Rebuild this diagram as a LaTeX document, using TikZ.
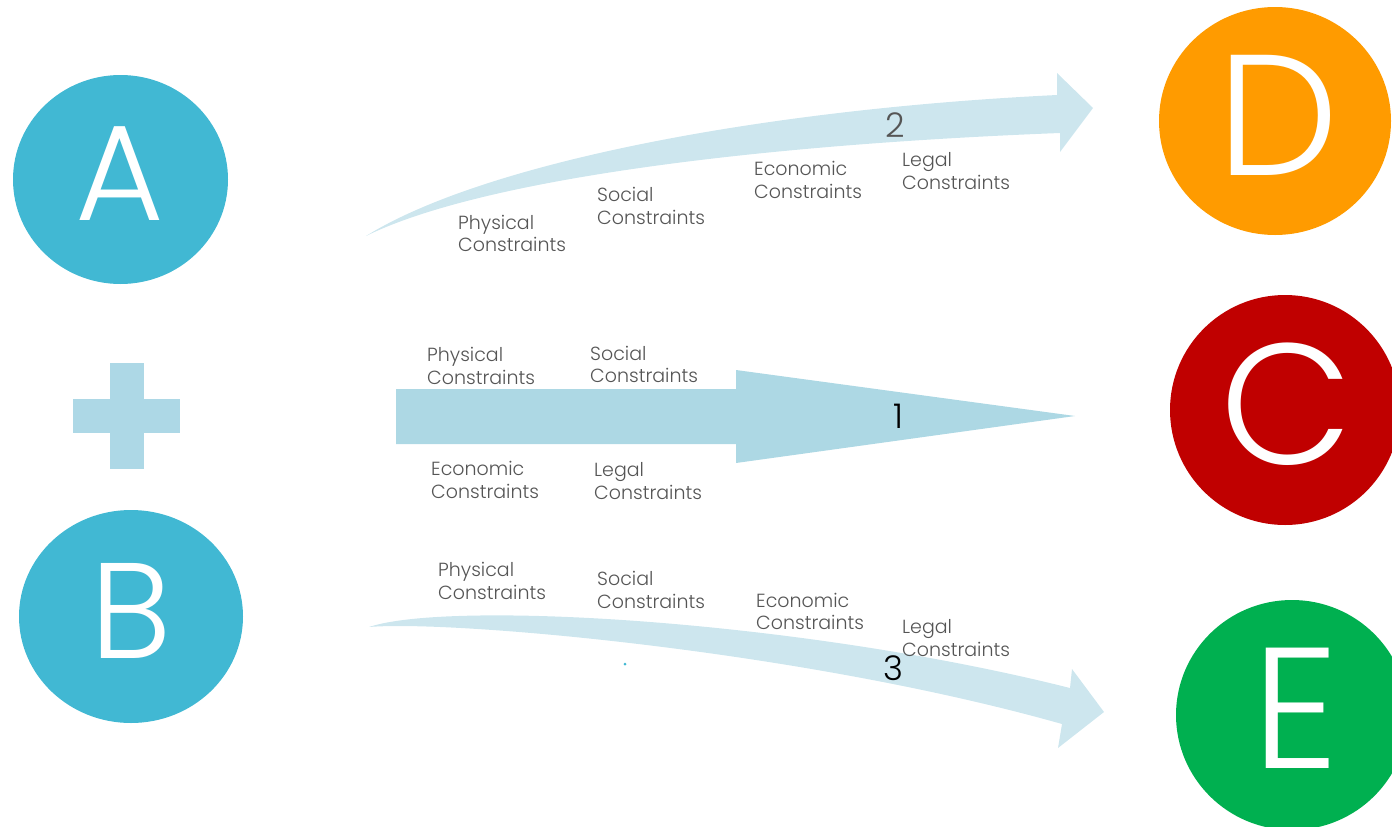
\documentclass[tikz,border=0pt]{standalone}
\usepackage{fontspec}
\setmainfont{Poppins}[UprightFont=* Light]
\usetikzlibrary{shapes.geometric}
\definecolor{ballblue}{HTML}{41B8D3}
\definecolor{plusblue}{HTML}{ADD8E6}
\definecolor{arrowmain}{HTML}{ADD8E4}
\definecolor{arrowlight}{HTML}{CDE6EE}
\definecolor{dorange}{HTML}{FF9B00}
\definecolor{cred}{HTML}{C00000}
\definecolor{egreen}{HTML}{00B050}
\definecolor{labelgray}{HTML}{555555}
\begin{document}
\begin{tikzpicture}[x=1pt,y=-1pt,
  ball/.style={ellipse,inner sep=0pt,draw=none},
  leftletter/.style={font=\fontsize{136}{136}\selectfont,text=white,inner sep=0pt},
  rightletter/.style={font=\fontsize{172}{172}\selectfont,text=white,inner sep=0pt},
  lbl/.style={font=\fontsize{19}{22.5}\selectfont,text=labelgray,align=left,anchor=west,inner sep=0pt},
  numlbl/.style={font=\fontsize{34}{34}\selectfont,inner sep=0pt}]
\useasboundingbox (0,0) rectangle (1392,827);
% left balls
\node[ball,fill=ballblue,minimum width=215,minimum height=209] (A) at (120.5,179.5) {};
\node[leftletter] (Atxt) at (119.5,174) {A};
\node[ball,fill=ballblue,minimum width=224,minimum height=213] (B) at (131,616.5) {};
\node[leftletter] (Btxt) at (131,611) {B};
% plus sign
\fill[plusblue] (73,399) rectangle (180,433);
\fill[plusblue] (110,363) rectangle (144,469);
% right balls
\node[ball,fill=dorange,minimum width=232,minimum height=228] (D) at (1275,121) {};
\node[rightletter] (Dtxt) at (1278,115) {D};
\node[ball,fill=cred,minimum width=230,minimum height=230] (C) at (1285,410) {};
\node[rightletter] (Ctxt) at (1287,404) {C};
\node[ball,fill=egreen,minimum width=232,minimum height=230] (E) at (1292,715) {};
\node[rightletter] (Etxt) at (1296,708) {E};
% arrow 1 (straight)
\fill[arrowmain] (396,389) -- (736,389) -- (736,370) -- (1075,416) -- (736,463) -- (736,444) -- (396,444) -- cycle;
% arrow 2 (curved up)
\fill[arrowlight] (366,236) .. controls (480,165) and (750,110) .. (1057,95)
  -- (1057,73) -- (1093,108) -- (1060,152) -- (1060,133)
  .. controls (750,145) and (480,180) .. (366,236) -- cycle;
% arrow 3 (curved down)
\fill[arrowlight] (369,627) .. controls (450,600) and (800,620) .. (1070,688)
  -- (1072,669) -- (1104,712) -- (1058,748) -- (1062,724)
  .. controls (800,650) and (450,620) .. (369,627) -- cycle;
\fill[ballblue] (625,664) circle (1.5);
% numbers
\node[numlbl,text=labelgray] (n2) at (895,125) {2};
\node[numlbl,text=black] (n1) at (898,416) {1};
\node[numlbl,text=black] (n3) at (893,668) {3};
% labels arrow 2
\node[lbl] (p2) at (458,233.5) {Physical\\Constraints};
\node[lbl] (s2) at (597,206) {Social\\Constraints};
\node[lbl] (e2) at (754,180) {Economic\\Constraints};
\node[lbl] (l2) at (902,171) {Legal\\Constraints};
% labels arrow 1
\node[lbl] (p1) at (427,366) {Physical\\Constraints};
\node[lbl] (s1) at (590,364.5) {Social\\Constraints};
\node[lbl] (e1) at (431,480) {Economic\\Constraints};
\node[lbl] (l1) at (594,481) {Legal\\Constraints};
% labels arrow 3
\node[lbl] (p3) at (438,581) {Physical\\Constraints};
\node[lbl] (s3) at (597,590) {Social\\Constraints};
\node[lbl] (e3) at (756,611.5) {Economic\\Constraints};
\node[lbl] (l3) at (902,638) {Legal\\Constraints};
\end{tikzpicture}
\end{document}
